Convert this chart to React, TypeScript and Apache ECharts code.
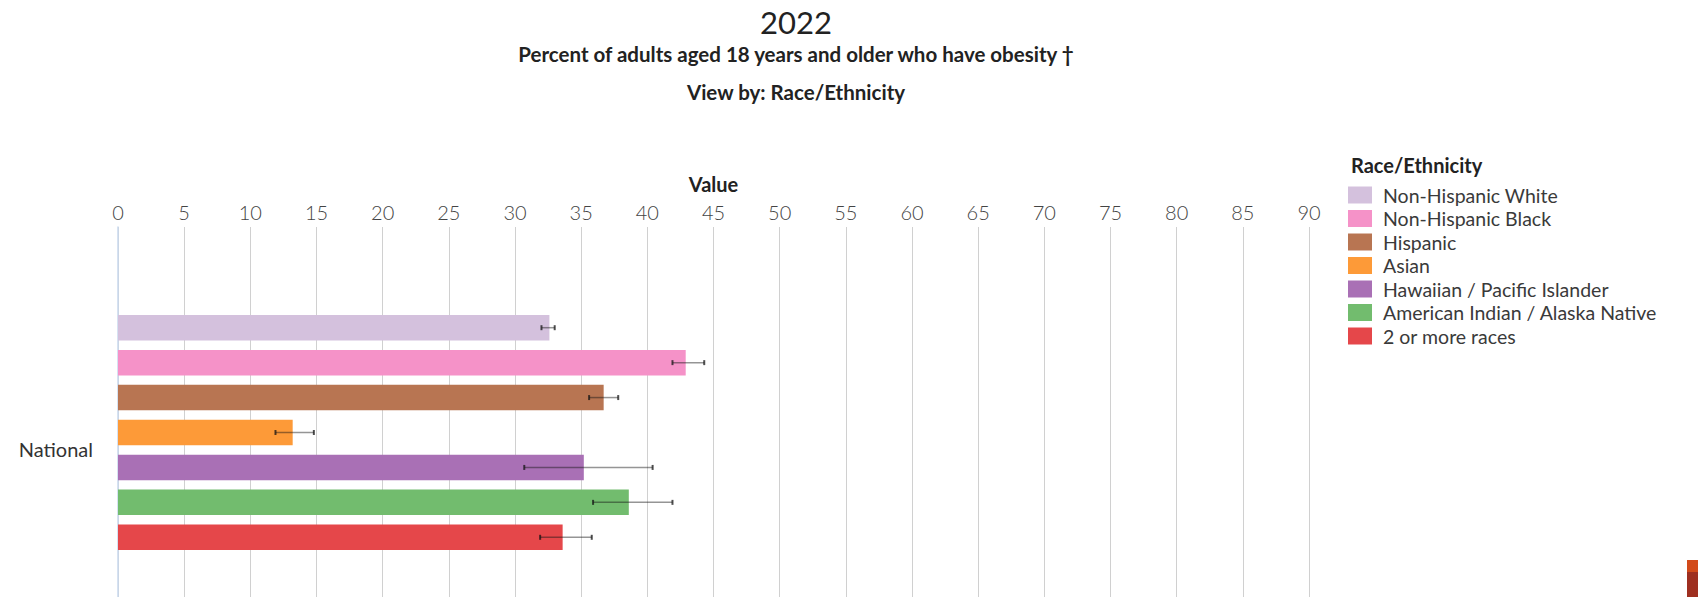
import React, { useEffect, useRef } from "react";
import * as echarts from "echarts";

const categories = ["National"];
const raceGroups = [
  "Non-Hispanic White",
  "Non-Hispanic Black",
  "Hispanic",
  "Asian",
  "Hawaiian / Pacific Islander",
  "American Indian / Alaska Native",
  "2 or more races",
];
const values = [32.6, 42.9, 36.7, 13.2, 35.2, 38.6, 33.6];
const ciLow = [32.0, 41.9, 35.6, 11.9, 30.7, 35.9, 31.9];
const ciHigh = [33.0, 44.3, 37.8, 14.8, 40.4, 41.9, 35.8];
const colors = ["#d4c1dd", "#f592c8", "#b87552", "#fd9a38", "#a970b5", "#72bc6e", "#e5474a"];
const xMin = 0;
const xMax = 90;
const xInterval = 5;

const titleText = "2022";
const subtitleText = "Percent of adults aged 18 years and older who have obesity \u2020";
const viewByText = "View by: Race/Ethnicity";
const legendTitle = "Race/Ethnicity";
const axisName = "Value";

const FONT = "Lato, 'Open Sans', sans-serif";
const BAR_WIDTH = 25.5;
const BAR_GAP_RATIO = 0.37;

export default function App() {
  const ref = useRef<HTMLDivElement>(null);
  useEffect(() => {
    if (!ref.current) return;
    const chart = echarts.init(ref.current, undefined, { renderer: "svg" });
    const n = raceGroups.length;
    const step = BAR_WIDTH * (1 + BAR_GAP_RATIO);

    const barSeries = raceGroups.map((name, i) => ({
      name,
      type: "bar",
      data: [values[i]],
      barWidth: BAR_WIDTH,
      barGap: `${BAR_GAP_RATIO * 100}%`,
      itemStyle: { color: colors[i] },
      emphasis: { disabled: true },
    }));

    const errorSeries = raceGroups.map((name, i) => ({
      name: name + " CI",
      type: "custom",
      data: [[ciLow[i], ciHigh[i], 0]],
      encode: { x: [0, 1], y: 2 },
      z: 5,
      silent: true,
      renderItem: (params: any, api: any) => {
        const p1 = api.coord([api.value(0), api.value(2)]);
        const p2 = api.coord([api.value(1), api.value(2)]);
        const y = p1[1] + (i - (n - 1) / 2) * step;
        const cap = 2.5;
        const style = { stroke: "rgba(20,20,20,0.45)", lineWidth: 1.5, fill: "none" };
        const capStyle = { ...style, lineWidth: 2, stroke: "rgba(20,20,20,0.75)" };
        return {
          type: "group",
          children: [
            { type: "line", shape: { x1: p1[0], y1: y, x2: p2[0], y2: y }, style },
            { type: "line", shape: { x1: p1[0], y1: y - cap, x2: p1[0], y2: y + cap }, style: capStyle },
            { type: "line", shape: { x1: p2[0], y1: y - cap, x2: p2[0], y2: y + cap }, style: capStyle },
          ],
        };
      },
    }));

    chart.setOption({
      animation: false,
      backgroundColor: "#ffffff",
      textStyle: { fontFamily: FONT },
      grid: { left: 118, right: 389, top: 227, bottom: 0, containLabel: false },
      xAxis: {
        type: "value",
        position: "top",
        min: xMin,
        max: xMax,
        interval: xInterval,
        name: axisName,
        nameLocation: "middle",
        nameGap: 33,
        nameTextStyle: { fontFamily: FONT, fontSize: 20, fontWeight: "bold", color: "#222" },
        axisLine: { show: false },
        axisTick: { show: false },
        axisLabel: { fontFamily: FONT, fontSize: 20, fontWeight: 300, color: "#444", margin: 5 },
        splitLine: { show: true, lineStyle: { color: "#d0d0d0", width: 1 } },
      },
      yAxis: {
        type: "category",
        data: categories,
        axisLine: { show: true, lineStyle: { color: "#c9d9ee", width: 1.5 } },
        axisTick: { show: false },
        axisLabel: {
          fontFamily: FONT,
          fontSize: 20,
          color: "#333",
          margin: 25,
          verticalAlign: "top",
          lineHeight: 33,
        },
      },
      legend: {
        data: raceGroups,
        orient: "vertical",
        left: 1348,
        top: 185,
        padding: 0,
        icon: "rect",
        itemWidth: 24,
        itemHeight: 17,
        itemGap: 3.5,
        selectedMode: false,
        textStyle: { fontFamily: FONT, fontSize: 19.5, color: "#3a3a3a", lineHeight: 17, padding: [0, 0, 0, 6] },
      },
      graphic: [
        {
          type: "text",
          x: 796,
          y: 22,
          style: { text: titleText, fontFamily: FONT, fontSize: 31, fill: "#222", align: "center", verticalAlign: "middle" },
        },
        {
          type: "text",
          x: 796,
          y: 54,
          style: { text: subtitleText, fontFamily: FONT, fontSize: 20.5, fontWeight: "bold", fill: "#222", align: "center", verticalAlign: "middle" },
        },
        {
          type: "text",
          x: 796,
          y: 92,
          style: { text: viewByText, fontFamily: FONT, fontSize: 20.5, fontWeight: "bold", fill: "#222", align: "center", verticalAlign: "middle" },
        },
        {
          type: "text",
          x: 1351,
          y: 165,
          style: { text: legendTitle, fontFamily: FONT, fontSize: 20, fontWeight: "bold", fill: "#222", align: "left", verticalAlign: "middle" },
        },
        { type: "rect", shape: { x: 1687, y: 560, width: 11, height: 12 }, style: { fill: "#d24a1a" } },
        { type: "rect", shape: { x: 1687, y: 572, width: 11, height: 25 }, style: { fill: "#9e2f20" } },
      ],
      series: [...barSeries, ...errorSeries],
    });
    return () => chart.dispose();
  }, []);
  return (
    <div
      ref={ref}
      style={{ position: "fixed", left: 0, top: 0, width: "1698px", height: "638px", background: "#fff" }}
    />
  );
}
